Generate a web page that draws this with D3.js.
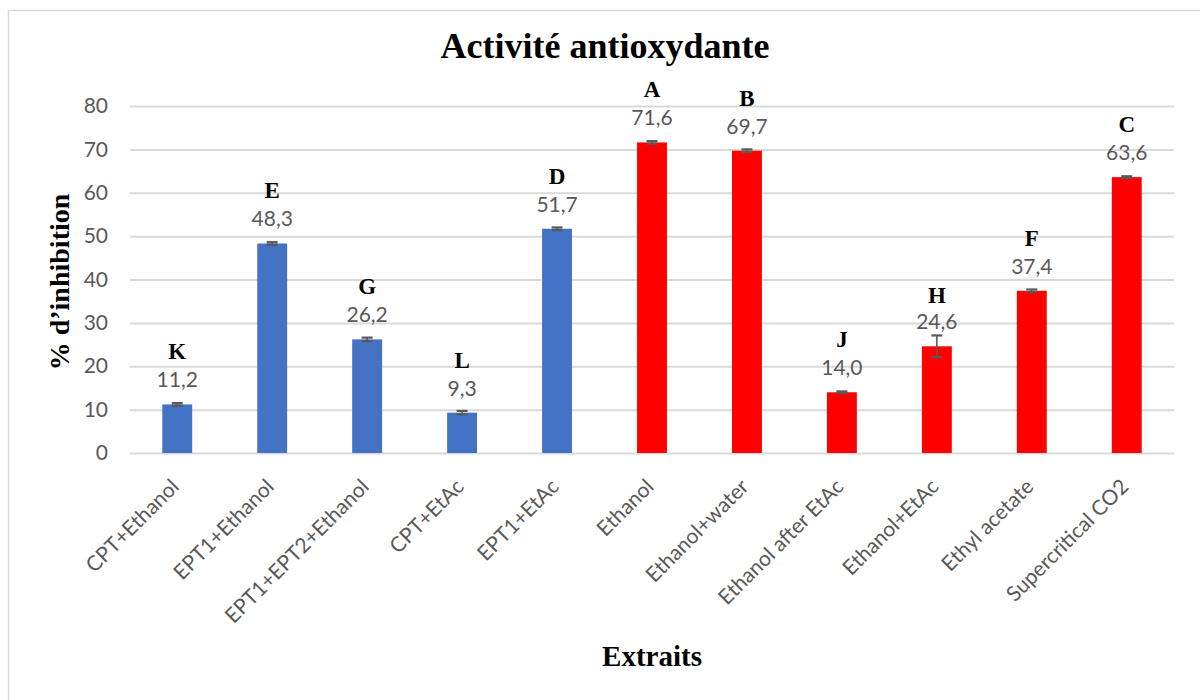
<!DOCTYPE html>
<html>
<head>
<meta charset="utf-8">
<script src="https://cdn.jsdelivr.net/npm/d3@7"></script>
<style>
  body { margin: 0; background: #fff; }
  svg { display: block; }
</style>
</head>
<body>
<div id="chart"></div>
<script>
// data
const categories = ["CPT+Ethanol", "EPT1+Ethanol", "EPT1+EPT2+Ethanol", "CPT+EtAc", "EPT1+EtAc",
  "Ethanol", "Ethanol+water", "Ethanol after EtAc", "Ethanol+EtAc", "Ethyl acetate", "Supercritical CO2"];
const values = [11.2, 48.3, 26.2, 9.3, 51.7, 71.6, 69.7, 14.0, 24.6, 37.4, 63.6];
const errors = [0.3, 0.3, 0.4, 0.4, 0.3, 0.3, 0.3, 0.2, 2.5, 0.3, 0.2];
const letters = ["K", "E", "G", "L", "D", "A", "B", "J", "H", "F", "C"];
const groups = ["blue", "blue", "blue", "blue", "blue", "red", "red", "red", "red", "red", "red"];
const yTicks = [0, 10, 20, 30, 40, 50, 60, 70, 80];

const width = 1200, height = 700;
const margin = { left: 130, right: 26, top: 106, bottom: 247 };

const svg = d3.select("#chart").append("svg")
  .attr("width", width)
  .attr("height", height);

// outer frame (only left / top edges fall inside the window)
svg.append("rect")
  .attr("x", 8.5).attr("y", 10.5)
  .attr("width", 1200).attr("height", 700)
  .attr("fill", "#fff")
  .attr("stroke", "#d9d9d9")
  .attr("stroke-width", 1.5);

const x = d3.scaleBand()
  .domain(categories)
  .range([margin.left, width - margin.right])
  .paddingInner(0.685)
  .paddingOuter(0.34);

const y = d3.scaleLinear()
  .domain([0, 80])
  .range([height - margin.bottom, margin.top]);

const color = d3.scaleOrdinal()
  .domain(["blue", "red"])
  .range(["#4472C4", "#FF0000"]);

// gridlines + tick labels
const yAxis = svg.append("g")
  .attr("transform", `translate(${margin.left},0)`)
  .call(d3.axisLeft(y).tickValues(yTicks).tickSize(-(width - margin.left - margin.right)).tickPadding(22));
yAxis.select(".domain").remove();
yAxis.selectAll(".tick line").attr("stroke", "#d9d9d9").attr("stroke-width", 2);
yAxis.selectAll(".tick text")
  .attr("fill", "#595959")
  .style("font-family", "Lato, 'Liberation Sans', sans-serif")
  .style("font-size", "21px");

// bars
const data = categories.map((c, i) => ({ c, v: values[i], e: errors[i], l: letters[i], g: groups[i] }));

svg.append("g").selectAll("rect")
  .data(data)
  .join("rect")
  .attr("x", d => x(d.c))
  .attr("y", d => y(d.v))
  .attr("width", x.bandwidth())
  .attr("height", d => y(0) - y(d.v))
  .attr("fill", d => color(d.g));

// error bars
const err = svg.append("g").attr("stroke", "#595959").attr("stroke-width", 1.6);
data.forEach(d => {
  const cx = x(d.c) + x.bandwidth() / 2;
  err.append("line")
    .attr("x1", cx).attr("x2", cx)
    .attr("y1", y(d.v + d.e)).attr("y2", y(d.v - d.e));
  [d.v + d.e, d.v - d.e].forEach(v => {
    err.append("line")
      .attr("x1", cx - 5.5).attr("x2", cx + 5.5)
      .attr("y1", y(v)).attr("y2", y(v))
      .attr("stroke-width", 2.2);
  });
});

// value labels
svg.append("g").selectAll("text")
  .data(data)
  .join("text")
  .attr("x", d => x(d.c) + x.bandwidth() / 2)
  .attr("y", d => y(d.v) - 17)
  .attr("text-anchor", "middle")
  .attr("fill", "#595959")
  .style("font-family", "Lato, 'Liberation Sans', sans-serif")
  .style("font-size", "21px")
  .text(d => d3.format(".1f")(d.v).replace(".", ","));

// significance letters (H sits closer to its label, as in the original)
svg.append("g").selectAll("text")
  .data(data)
  .join("text")
  .attr("x", d => x(d.c) + x.bandwidth() / 2)
  .attr("y", d => y(d.v) - 17 - (d.l === "H" ? 26 : 28))
  .attr("text-anchor", "middle")
  .attr("fill", "#000")
  .style("font-family", "'Liberation Serif', 'Times New Roman', serif")
  .style("font-weight", "bold")
  .style("font-size", "23px")
  .text(d => d.l);

// rotated category labels
svg.append("g").selectAll("text")
  .data(categories)
  .join("text")
  .attr("transform", d => `translate(${x(d) + x.bandwidth() / 2 + 3},${y(0) + 35}) rotate(-45)`)
  .attr("text-anchor", "end")
  .attr("fill", "#595959")
  .style("font-family", "Lato, 'Liberation Sans', sans-serif")
  .style("font-size", "21px")
  .text(d => d);

// titles
svg.append("text")
  .attr("x", 605)
  .attr("y", 58)
  .attr("text-anchor", "middle")
  .style("font-family", "'Liberation Serif', 'Times New Roman', serif")
  .style("font-weight", "bold")
  .style("font-size", "36px")
  .text("Activité antioxydante");

svg.append("text")
  .attr("transform", "translate(69,282) rotate(-90)")
  .attr("text-anchor", "middle")
  .style("font-family", "'Liberation Serif', 'Times New Roman', serif")
  .style("font-weight", "bold")
  .style("font-size", "28px")
  .text("% d’inhibition");

svg.append("text")
  .attr("x", 652)
  .attr("y", 666)
  .attr("text-anchor", "middle")
  .style("font-family", "'Liberation Serif', 'Times New Roman', serif")
  .style("font-weight", "bold")
  .style("font-size", "29px")
  .text("Extraits");
</script>
</body>
</html>
